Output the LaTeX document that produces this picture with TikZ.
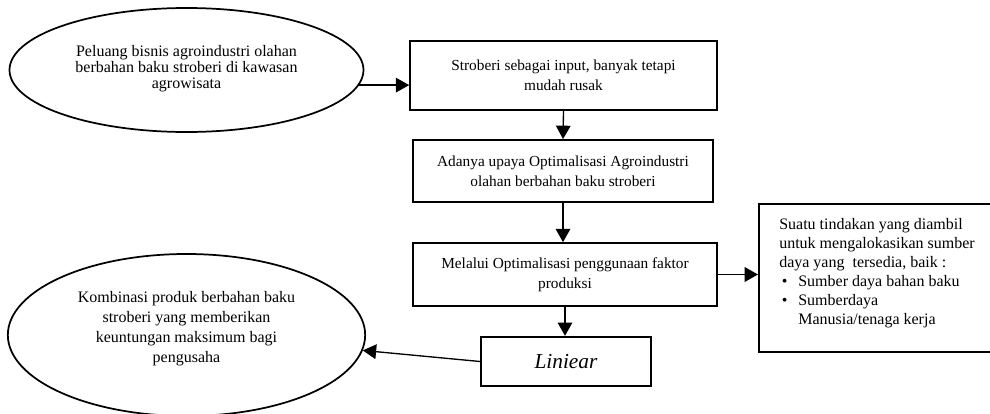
\documentclass[tikz,border=0pt]{standalone}
\usepackage{fontspec}
\setmainfont{Liberation Serif}
\usetikzlibrary{shapes.geometric,arrows.meta}

\tikzset{
  oval/.style={draw,ellipse,line width=1.3pt,inner sep=0pt,align=center},
  stepbox/.style={draw,rectangle,line width=1.5pt,inner sep=0pt,align=center,
    font=\fontsize{11.5}{15}\selectfont},
  arr/.style={line width=1pt,-{Triangle[length=10pt,width=11pt]}}
}

\begin{document}
\begin{tikzpicture}[x=0.75pt,y=-0.75pt]
  \useasboundingbox (0,0) rectangle (990,414);
  \clip (0,0) rectangle (990,414);

  % left ellipses
  \node[oval,minimum width=265.5pt,minimum height=93pt,
    font=\fontsize{12}{12}\selectfont] (peluang) at (186.5,70)
    {Peluang bisnis agroindustri olahan\\berbahan baku stroberi di kawasan\\agrowisata\\[-7.5pt]};
  \node[oval,minimum width=268pt,minimum height=121.5pt,
    font=\fontsize{12}{14.8}\selectfont] (kombinasi) at (186.5,335)
    {Kombinasi produk berbahan baku\\stroberi yang memberikan\\keuntungan maksimum bagi\\pengusaha\\[-2.8pt]};

  % middle column
  \node[stepbox,minimum width=230pt,minimum height=52pt] (input) at (563.5,75.5)
    {Stroberi sebagai input, banyak tetapi\\mudah rusak};
  \node[stepbox,minimum width=225pt,minimum height=46.5pt] (upaya) at (563,171)
    {Adanya upaya Optimalisasi Agroindustri\\olahan berbahan baku stroberi};
  \node[stepbox,minimum width=228pt,minimum height=47pt] (faktor) at (565,274.5)
    {Melalui Optimalisasi penggunaan faktor\\produksi};
  \node[stepbox,minimum width=127.5pt,minimum height=37pt,
    font=\fontsize{16}{18}\selectfont\itshape] (liniear) at (566,361.5) {Liniear};

  % right box
  \node[draw,rectangle,line width=1.5pt,anchor=north west,
    minimum width=181.5pt,minimum height=111pt] (tindakan) at (758,203) {};
  \node[anchor=north west,inner sep=0pt,align=left,
    font=\fontsize{12}{14.25}\selectfont] (tindakantext) at (779,218)
    {Suatu tindakan yang diambil\\
     untuk mengalokasikan sumber\\
     daya yang\ \ tersedia, baik :\\
     \hspace*{2pt}\makebox[12.3pt][l]{\textbullet}Sumber daya bahan baku\\
     \hspace*{2pt}\makebox[12.3pt][l]{\textbullet}Sumberdaya\\
     \hspace*{14.3pt}Manusia/tenaga kerja};

  % connectors
  \draw[arr] (peluang.-5) -- (peluang.-5 -| input.west);
  \draw[arr] (input.south) -- (upaya.north);
  \draw[arr] (upaya.south) -- (upaya.south |- faktor.north);
  \draw[arr] (faktor.east) -- (faktor.east -| tindakan.west);
  \draw[arr] (faktor.south) -- (faktor.south |- liniear.north);
  \draw[arr] (liniear.west) -- (kombinasi.-5.5);
\end{tikzpicture}
\end{document}
